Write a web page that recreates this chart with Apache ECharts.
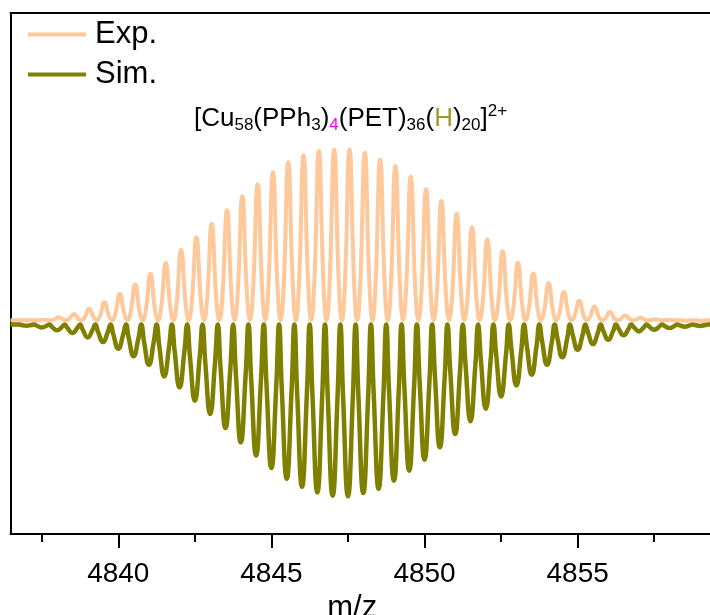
<!DOCTYPE html>
<html>
<head>
<meta charset="utf-8">
<script src="https://cdn.jsdelivr.net/npm/echarts@6/dist/echarts.min.js"></script>
<style>
  html, body { margin: 0; padding: 0; background: #fff; overflow: hidden; }
  #chart { width: 710px; height: 615px; }
</style>
</head>
<body>
<div id="chart"></div>
<script>
// ---------------- data ----------------
// visible m/z window (right end runs past the picture edge)
var xRange = [4836.48, 4859.42];
var yRange = [-123.8, 179.1];
// tick labels / tick marks
var majorTicks = [4840, 4845, 4850, 4855];
var minorTicks = [4837.5, 4842.5, 4847.5, 4852.5, 4857.5];

// experimental isotope peaks (m/z centre, intensity above baseline)
var expMz = [4837.05, 4837.55, 4838.05, 4838.55, 4839.05, 4839.55, 4840.05, 4840.55, 4841.05, 4841.55,
             4842.05, 4842.55, 4843.05, 4843.55, 4844.05, 4844.55, 4845.05, 4845.55, 4846.05, 4846.55,
             4847.05, 4847.55, 4848.05, 4848.55, 4849.05, 4849.55, 4850.05, 4850.55, 4851.05, 4851.55,
             4852.05, 4852.55, 4853.05, 4853.55, 4854.05, 4854.55, 4855.05, 4855.55, 4856.05, 4856.55,
             4857.05, 4857.55, 4858.05, 4858.55, 4859.05];
var expInt = [0.4, 0.8, 2.2, 4.1, 7.2, 10.9, 15.9, 21.3, 27.3, 33.7,
              41.5, 48.7, 56.6, 64.4, 72.5, 79.5, 86.5, 92.3, 96.3, 98.8,
              99.8, 99.8, 97.8, 93.8, 90.1, 83.9, 76.6, 69.8, 62.4, 54.7,
              47.5, 40.7, 33.9, 27.7, 22.1, 16.9, 11.8, 8.5, 5.2, 3.3,
              1.9, 1.0, 0.6, 0.2, 0.1];
var expBase = 0.5;

// simulated isotope pattern (plotted downwards)
var simMz = [4837.00, 4837.50, 4838.00, 4838.50, 4839.00, 4839.50, 4840.00, 4840.50, 4841.00, 4841.50,
             4842.00, 4842.50, 4843.00, 4843.50, 4844.00, 4844.50, 4845.00, 4845.50, 4846.00, 4846.50,
             4847.00, 4847.50, 4848.00, 4848.50, 4849.00, 4849.50, 4850.00, 4850.50, 4851.00, 4851.50,
             4852.00, 4852.50, 4853.00, 4853.50, 4854.00, 4854.50, 4855.00, 4855.50, 4856.00, 4856.50,
             4857.00, 4857.50, 4858.00, 4858.50, 4859.00];
var simInt = [-2.7, -3.7, -5.4, -7.0, -9.5, -12.2, -16.1, -20.5, -25.4, -32.2,
              -38.5, -46.3, -54.1, -62.2, -70.5, -78.1, -85.5, -91.7, -96.3, -99.6,
              -101.6, -101.9, -100.0, -97.5, -92.8, -87.0, -80.6, -73.4, -65.7, -58.3,
              -51.0, -43.8, -37.4, -31.2, -25.4, -21.1, -16.7, -13.4, -10.9, -8.3,
              -6.0, -5.1, -4.1, -3.3, -2.8];
var simBase = -2.0;

// peak profile: offsets from peak centre (m/z) and fraction of height
var expShapeDx = [-0.15, 0, 0.15];
var expShapeFr = [0.22, 1, 0.22];
var simShapeDx = [-0.16, 0, 0.16];
var simShapeFr = [0.42, 1, 0.42];
var halfGap = 0.25;

function profile(mz, val, base, dx, fr) {
  var pts = [[xRange[0], base]];
  for (var i = 0; i < mz.length; i++) {
    var c = mz[i];
    if (i === 0) pts.push([c - halfGap, base]);
    for (var k = 0; k < dx.length; k++) {
      pts.push([c + dx[k], base + fr[k] * (val[i] - base)]);
    }
    pts.push([c + halfGap, base]);
  }
  var last = pts[pts.length - 1][0];
  if (xRange[1] - last > 0.01) pts.push([xRange[1], base]);
  return pts;
}

var FONT = '"Liberation Sans", Arial, sans-serif';
var expColor = '#FFC89B';
var simColor = '#808000';
function plainNum(v) { return String(v); }

var chart = echarts.init(document.getElementById('chart'), null, { renderer: 'canvas' });
chart.setOption({
  animation: false,
  backgroundColor: '#fff',
  textStyle: { fontFamily: FONT },
  grid: { left: 10.5, top: 13, right: -3, bottom: 81, outerBoundsMode: 'none' },
  title: {
    text: '{m|[Cu}{s|58}{m|(PPh}{s|3}{m|)}{g|4}{m|(PET)}{s|36}{m|(}{h|H}{m|)}{s|20}{m|]}{p|2+}',
    left: 194, top: 103, padding: 0,
    textStyle: {
      fontWeight: 'normal',
      rich: {
        m: { fontSize: 26, lineHeight: 31, color: '#000', fontWeight: 'normal', fontFamily: FONT },
        s: { fontSize: 17, lineHeight: 14, verticalAlign: 'bottom', color: '#000', fontWeight: 'normal', fontFamily: FONT },
        g: { fontSize: 17, lineHeight: 14, verticalAlign: 'bottom', color: '#FF00FF', fontWeight: 'normal', fontFamily: FONT },
        h: { fontSize: 26, lineHeight: 31, color: '#A3982A', fontWeight: 'normal', fontFamily: FONT },
        p: { fontSize: 17, lineHeight: 12, verticalAlign: 'top', color: '#000', fontWeight: 'normal', fontFamily: FONT }
      }
    }
  },
  legend: {
    data: ['Exp.', 'Sim.'],
    orient: 'vertical', left: 28, top: 19, padding: 0,
    icon: 'rect', itemWidth: 58, itemHeight: 4, itemGap: 9,
    textStyle: { fontSize: 31, color: '#000', lineHeight: 31, fontFamily: FONT, padding: [0, 0, 0, 4] }
  },
  xAxis: [
    {
      type: 'value', position: 'bottom', min: xRange[0], max: xRange[1],
      name: 'm/z', nameLocation: 'middle', nameGap: 58,
      nameTextStyle: { fontSize: 31, color: '#000', fontFamily: FONT, padding: [0, 19, 0, 0] },
      axisLine: { show: true, onZero: false, lineStyle: { color: '#000', width: 2 } },
      axisTick: { show: true, customValues: majorTicks, length: 14, lineStyle: { color: '#000', width: 2 } },
      axisLabel: { show: true, customValues: majorTicks, formatter: plainNum, fontSize: 28, color: '#000', margin: 26, fontFamily: FONT },
      splitLine: { show: false }
    },
    {
      type: 'value', position: 'bottom', min: xRange[0], max: xRange[1],
      axisLine: { show: false, onZero: false },
      axisTick: { show: true, customValues: minorTicks, length: 8, lineStyle: { color: '#000', width: 2 } },
      axisLabel: { show: false },
      splitLine: { show: false }
    },
    {
      type: 'value', position: 'top', min: xRange[0], max: xRange[1],
      axisLine: { show: true, onZero: false, lineStyle: { color: '#000', width: 2 } },
      axisTick: { show: false },
      axisLabel: { show: false },
      splitLine: { show: false }
    }
  ],
  yAxis: {
    type: 'value', position: 'left', min: yRange[0], max: yRange[1],
    axisLine: { show: true, lineStyle: { color: '#000', width: 2 } },
    axisTick: { show: false },
    axisLabel: { show: false },
    splitLine: { show: false }
  },
  series: [
    {
      name: 'Exp.', type: 'line', xAxisIndex: 0, yAxisIndex: 0,
      data: profile(expMz, expInt, expBase, expShapeDx, expShapeFr),
      smooth: 0.5, showSymbol: false, symbol: 'none', clip: true,
      color: expColor,
      lineStyle: { color: expColor, width: 4 },
      itemStyle: { color: expColor }
    },
    {
      name: 'Sim.', type: 'line', xAxisIndex: 0, yAxisIndex: 0,
      data: profile(simMz, simInt, simBase, simShapeDx, simShapeFr),
      smooth: 0.5, showSymbol: false, symbol: 'none', clip: true,
      color: simColor,
      lineStyle: { color: simColor, width: 4.5 },
      itemStyle: { color: simColor }
    }
  ]
});
</script>
</body>
</html>
